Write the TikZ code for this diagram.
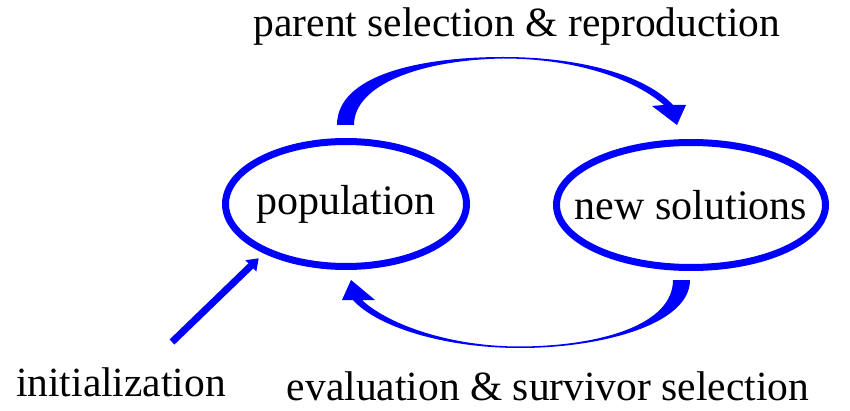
\documentclass[tikz,border=0pt]{standalone}
\usepackage{fontspec}
\setmainfont{Liberation Serif}
\usetikzlibrary{shapes.geometric,arrows.meta}
\definecolor{eablue}{RGB}{0,0,255}
\tikzset{
  pool/.style={ellipse, draw=eablue, line width=7pt, inner xsep=-40pt,
    inner ysep=0pt, font=\fontsize{42}{46}\selectfont},
  caption/.style={anchor=base, font=\fontsize{41.5}{46}\selectfont},
  loopband/.style={fill=eablue, draw=none}
}
\begin{document}
\begin{tikzpicture}[x=1pt,y=-1pt]
\useasboundingbox (0,0) rectangle (850,411);
% the two pools
\node[pool, minimum width=241pt, minimum height=125pt] (pop) at (346,204) {population};
\node[pool, minimum width=269pt, minimum height=125pt] (new) at (691,205) {new solutions};
% captions
\node[caption] (reprod) at (517,37) {parent selection \& reproduction};
\node[caption] (survive) at (548,400) {evaluation \& survivor selection};
\node[caption] (init) at (121,396) {initialization};
% upper bent arrow
\fill[loopband] (337,125) .. controls (337,75) and (420,57) .. (503,57)
  .. controls (580,57) and (645,75) .. (673,105) -- (686,105) -- (677,125)
  -- (652,106) -- (664,105) .. controls (630,76) and (570,58.5) .. (503,58.5)
  .. controls (420,60) and (354,85) .. (354,125) -- cycle;
% lower bent arrow
\fill[loopband] (690,280) .. controls (690,325) and (600,348) .. (520,348)
  .. controls (440,348) and (375,325) .. (353,300) -- (342,300) -- (351,280)
  -- (375,300) -- (362,300) .. controls (385,322) and (445,346.5) .. (520,346.5)
  .. controls (600,346) and (673,325) .. (673,280) -- cycle;
% initialization arrow
\coordinate (inittail) at (172,342);
\draw[eablue, line width=7pt, -{Triangle[length=11pt,width=15pt]}, shorten >=7pt]
  (inittail) -- (pop.-149);
\end{tikzpicture}
\end{document}
